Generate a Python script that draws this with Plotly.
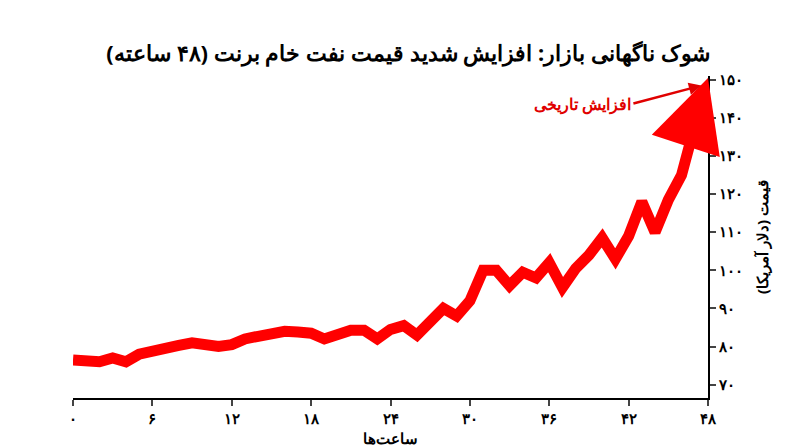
import plotly.graph_objects as go

hours = list(range(49))
price = [76.5,76.3,76,77,76,78,79,80,80.3,81,80.5,80,80.5,82,82.7,83.5,84,83.8,83.5,82,83.5,84.3,84.3,82,84.5,85.5,83,86.5,90,88,92,100,100,96,99.5,98,102,95.5,100.5,104,108.5,103,109,118,110,118.5,125,138,146]
fa = str.maketrans("0123456789", "۰۱۲۳۴۵۶۷۸۹")
xticks = list(range(0, 49, 6))
yticks = list(range(70, 151, 10))
title = "شوک ناگهانی بازار: افزایش شدید قیمت نفت خام برنت (۴۸ ساعته)"
font = "Noto Sans"

fig = go.Figure()
fig.add_trace(go.Scatter(x=hours, y=price, mode="lines", line=dict(color="#ff0000", width=11),
                         hoverinfo="skip"))
fig.add_annotation(x=48, y=150.5, ax=47.2, ay=142, axref="x", ayref="y", text="", showarrow=True,
                   arrowhead=2, arrowsize=1.3, arrowwidth=11, arrowcolor="#ff0000")
fig.add_annotation(x=47.5, y=148.5, ax=-68, ay=18, text="<b>افزایش تاریخی</b>", showarrow=True,
                   arrowhead=2, arrowsize=1, arrowwidth=2.5, arrowcolor="#e00000",
                   font=dict(color="#e00000", size=16, family=font), xanchor="right")
fig.update_layout(
    width=800, height=447, paper_bgcolor="white", plot_bgcolor="white", showlegend=False,
    margin=dict(l=65, r=100, t=68, b=48),
    title=dict(text="<b>"+title+"</b>", x=0.5, xanchor="center", y=0.915, font=dict(size=22, color="black", family=font)),
    xaxis=dict(range=[0, 48], tickvals=xticks, ticktext=["<b>"+str(v).translate(fa)+"</b>" for v in xticks],
               showgrid=False, zeroline=False, showline=True, linecolor="black", linewidth=2,
               ticks="outside", tickwidth=2, ticklen=6, tickfont=dict(size=15, family=font, color="black"),
               title=dict(text="<b>ساعت‌ها</b>", font=dict(size=15, family=font, color="black"), standoff=4)),
    yaxis=dict(range=[66.5, 151], side="right", tickvals=yticks, ticktext=["<b>"+str(v).translate(fa)+"</b>" for v in yticks],
               showgrid=False, zeroline=False, showline=True, linecolor="black", linewidth=2,
               ticks="outside", tickwidth=2, ticklen=6, tickfont=dict(size=15, family=font, color="black"),
               title=dict(text="<b>قیمت (دلار آمریکا)</b>", font=dict(size=15, family=font, color="black"))),
)
fig.write_html("out.html")
